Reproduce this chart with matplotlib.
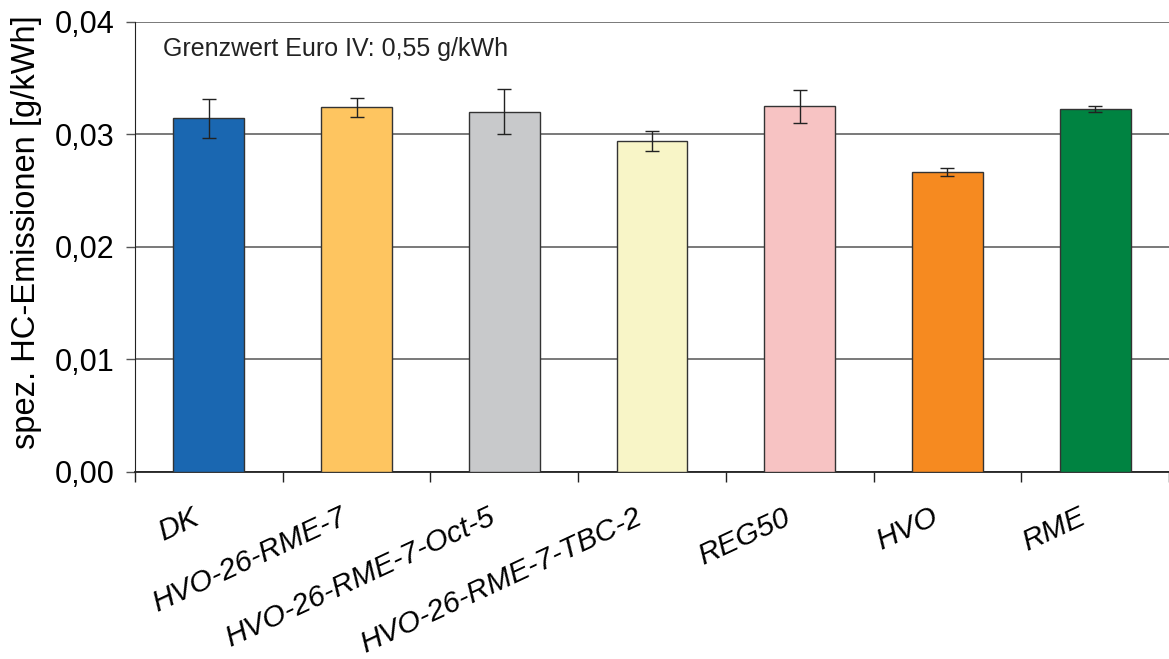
import numpy as np
import matplotlib
matplotlib.use("Agg")
import matplotlib.pyplot as plt
from matplotlib.ticker import FuncFormatter, FixedLocator
import matplotlib.transforms as mtransforms

plt.rcParams['font.family'] = ['Liberation Sans', 'DejaVu Sans']

# Daten
kraftstoffe = ['DK', 'HVO-26-RME-7', 'HVO-26-RME-7-Oct-5', 'HVO-26-RME-7-TBC-2',
               'REG50', 'HVO', 'RME']
hc_werte = [0.03141, 0.03239, 0.03200, 0.02940, 0.03248, 0.02667, 0.03221]
hc_fehler = [0.00173, 0.00082, 0.00201, 0.00092, 0.00144, 0.00037, 0.00027]
farben = ['#1a67b1', '#fec560', '#c8c9cb', '#f8f5c7', '#f7c3c3', '#f68a20', '#008341']
y_ticks = [0.0, 0.01, 0.02, 0.03, 0.04]

fig = plt.figure(figsize=(11.69, 6.59), dpi=100)
ax = fig.add_axes([135 / 1169, 1 - 471.7 / 659, 1 - 135 / 1169, (471.7 - 21.7) / 659])

x = np.arange(len(kraftstoffe))
ax.bar(x, hc_werte, width=0.48, color=farben, edgecolor='#333333', linewidth=1.0, zorder=3)
ax.errorbar(x, hc_werte, yerr=hc_fehler, fmt='none', ecolor='#222222',
            elinewidth=1.0, capsize=4.7, capthick=1.0, zorder=4)

ax.set_xlim(-0.5, len(kraftstoffe) - 0.5)
ax.set_ylim(0, 0.04)
ax.set_yticks(y_ticks)
ax.yaxis.set_major_formatter(FuncFormatter(lambda v, p: ('%.2f' % v).replace('.', ',')))
ax.yaxis.grid(True, color='#555555', linewidth=1.1, zorder=0)
ax.set_axisbelow(True)

for s in ['top', 'right']:
    ax.spines[s].set_visible(False)
ax.spines['left'].set_color('#222222')
ax.spines['bottom'].set_color('#222222')
ax.spines['bottom'].set_linewidth(1.3)

ax.tick_params(axis='y', direction='out', length=6.5, width=1, color='#555555',
               labelsize=22, pad=8)

# Kategorien-Beschriftung (schräg)
ax.set_xticks(x)
ax.set_xticklabels(kraftstoffe, rotation=25, ha='right', va='baseline',
                   rotation_mode='anchor', fontsize=21.5, style='italic')
ax.tick_params(axis='x', which='major', length=0, pad=37)
ax.xaxis.set_minor_locator(FixedLocator(np.arange(-0.5, len(kraftstoffe), 1.0)))
ax.tick_params(axis='x', which='minor', direction='out', length=7, width=1, color='#222222')
offset = mtransforms.ScaledTranslation(-8 / 100, 0, fig.dpi_scale_trans)
for lbl in ax.get_xticklabels():
    lbl.set_transform(lbl.get_transform() + offset)

ax.set_ylabel('spez. HC-Emissionen [g/kWh]', fontsize=23.5)
ax.yaxis.set_label_coords(-0.09, 0.533)

ax.text(0.027, 0.965, 'Grenzwert Euro IV: 0,55 g/kWh', fontsize=18,
        transform=ax.transAxes, ha='left', va='top', color='#222222')

fig.savefig('out.png', dpi=100)
